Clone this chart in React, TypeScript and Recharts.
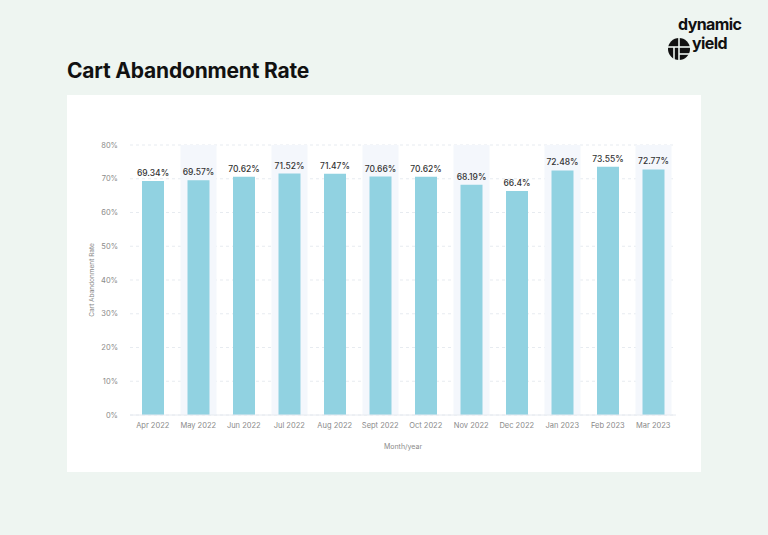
import { BarChart, Bar, XAxis, YAxis, CartesianGrid, LabelList } from "recharts";

const months = ["Apr 2022", "May 2022", "Jun 2022", "Jul 2022", "Aug 2022", "Sept 2022", "Oct 2022", "Nov 2022", "Dec 2022", "Jan 2023", "Feb 2023", "Mar 2023"];
const rates = [69.34, 69.57, 70.62, 71.52, 71.47, 70.66, 70.62, 68.19, 66.4, 72.48, 73.55, 72.77];
const yTicks = [0, 10, 20, 30, 40, 50, 60, 70, 80];

const data = months.map((m, i) => ({ month: m, rate: rates[i] }));

const FONT = "Inter, 'Noto Sans', sans-serif";

// light band behind every second month
const Band = (props: any) => {
  const { x, y, width, height, index } = props;
  if (index % 2 === 0) return <g />;
  return <rect x={x - 7} y={y} width={width + 14} height={height} fill="#F4F7FC" />;
};

const Logo = () => (
  <svg width="92" height="52" style={{ position: "absolute", left: 660, top: 14 }}>
    <text x="18" y="16" fontFamily="Inter, sans-serif" fontWeight={700} fontSize="16" letterSpacing="-0.6" fill="#111">dynamic</text>
    <text x="32" y="35" fontFamily="Inter, sans-serif" fontWeight={700} fontSize="16" letterSpacing="-0.6" fill="#111">yield</text>
    <circle cx="19" cy="35" r="11" fill="#111" />
    <line x1="19" y1="24" x2="19" y2="46" stroke="#EEF5F1" strokeWidth="1.6" />
    <line x1="8" y1="33" x2="30" y2="33" stroke="#EEF5F1" strokeWidth="1.6" />
    <line x1="14" y1="33" x2="14" y2="46" stroke="#EEF5F1" strokeWidth="1.6" />
    <line x1="19" y1="40" x2="30" y2="40" stroke="#EEF5F1" strokeWidth="1.6" />
  </svg>
);

export default function App() {
  return (
    <div style={{ position: "fixed", left: 0, top: 0, width: 768, height: 535, background: "#EEF5F1", overflow: "hidden" }}>
      <div style={{ position: "absolute", left: 67, top: 58, fontFamily: FONT, fontWeight: 700, fontSize: 21, color: "#111", letterSpacing: "-0.2px" }}>
        Cart Abandonment Rate
      </div>
      <Logo />
      <div style={{ position: "absolute", left: 67, top: 95, width: 634, height: 377, background: "#fff" }}>
        <BarChart width={634} height={377} data={data} margin={{ top: 50, right: 25, left: 23, bottom: 27 }}>
          <CartesianGrid vertical={false} strokeDasharray="3 3" stroke="#E7EBF0" />
          <XAxis
            dataKey="month"
            axisLine={{ stroke: "#E6EAF0" }}
            tickLine={false}
            tick={{ fontSize: 7.5, fill: "#8a8a8a", fontFamily: FONT }}
            tickMargin={2}
            height={30}
            interval={0}
            label={{ value: "Month/year", position: "insideBottom", offset: -4, fontSize: 7, fill: "#8a8a8a", fontFamily: FONT }}
          />
          <YAxis
            domain={[0, 80]}
            ticks={yTicks}
            tickFormatter={(v) => `${v}%`}
            axisLine={false}
            tickLine={false}
            tickMargin={6}
            width={40}
            tick={{ fontSize: 7.5, fill: "#8a8a8a", fontFamily: FONT }}
            label={{ value: "Cart Abandonment Rate", angle: -90, position: "insideLeft", offset: 2, fontSize: 6.5, fill: "#8a8a8a", fontFamily: FONT, style: { textAnchor: "middle" } }}
          />
          <Bar dataKey="rate" fill="#91D2E1" barSize={22} background={<Band />} isAnimationActive={false}>
            <LabelList dataKey="rate" position="top" offset={5} formatter={(v: any) => `${v}%`} style={{ fontSize: 8.5, fill: "#333", fontFamily: FONT, fontWeight: 500 }} />
          </Bar>
        </BarChart>
      </div>
    </div>
  );
}
